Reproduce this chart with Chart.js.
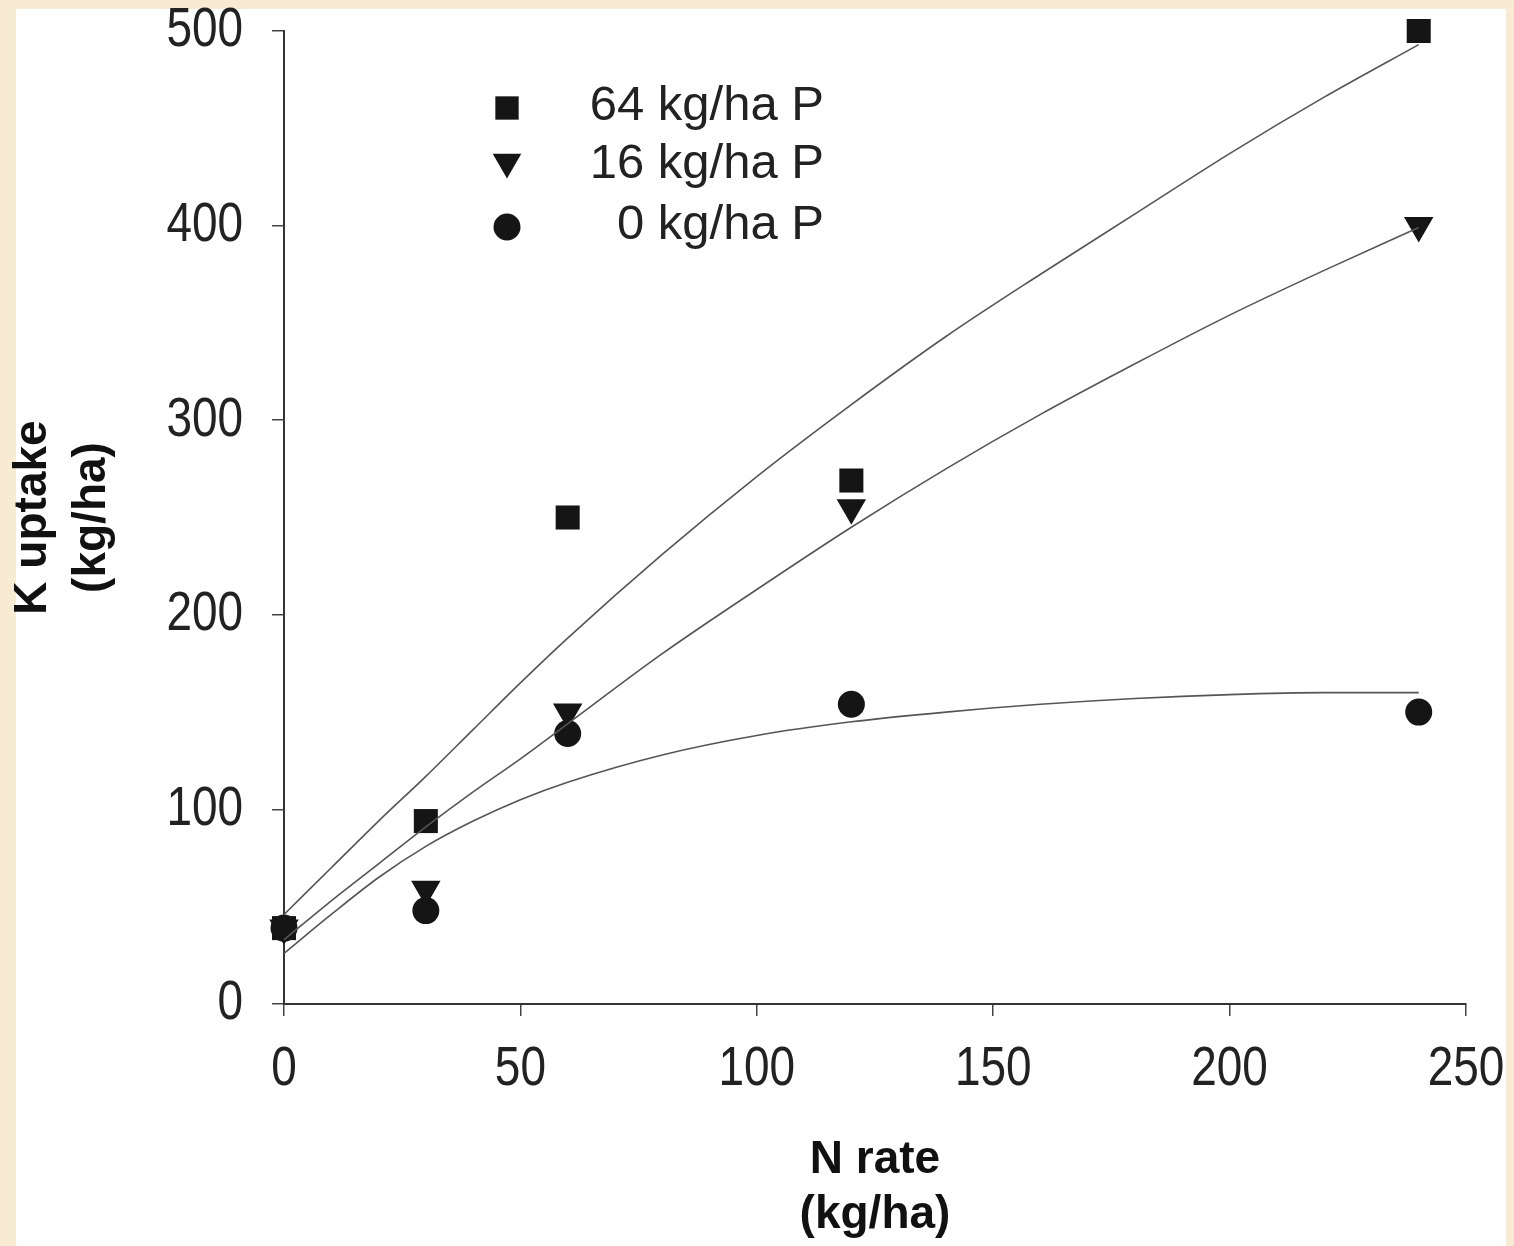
<!DOCTYPE html>
<html>
<head>
<meta charset="utf-8">
<script src="https://cdn.jsdelivr.net/npm/chart.js@4.4.1/dist/chart.umd.min.js"></script>
<style>
  html, body { margin: 0; padding: 0; background: #F8EBD3; }
  #wrap { position: absolute; left: 0; top: 0; width: 1514px; height: 1246px; }
</style>
</head>
<body>
<div id="wrap"><canvas id="grafico" width="1514" height="1246"></canvas></div>
<script>
// Datos medidos (tasa de N vs absorcion de K)
const nRates = [0, 30, 60, 120, 240];
const uptake64P = [39, 94, 250, 269, 500];
const uptake16P = [39, 59, 150, 255, 400];
const uptake0P = [39, 48, 139, 154, 150];

// Curvas ajustadas
const fitN = [0, 10, 20, 30, 40, 50, 60, 80, 100, 120, 140, 160, 180, 200, 220, 240];
const fit64P = [46, 70, 94, 117, 141, 165, 188, 231, 271, 308, 343, 375, 406, 437, 466, 493];
const fit16P = [33, 53, 72, 91, 109, 126, 144, 180, 213, 245, 275, 303, 329, 354, 377, 399];
const fit0P = [26, 46, 65, 81, 94, 105, 114, 128, 138, 145, 150, 154, 157, 159, 160, 160];

const legendLabels = ['64 kg/ha P', '16 kg/ha P', '0 kg/ha P'];
const xTicks = [0, 50, 100, 150, 200, 250];
const yTicks = [0, 100, 200, 300, 400, 500];

const titleFont = { family: "'Liberation Sans', Arial, sans-serif", size: 46, weight: 'bold' };
const fuenteTicks = "56px 'Liberation Sans', Arial, sans-serif";

function puntos(xs, ys) {
    return xs.map((x, i) => ({ x: x, y: ys[i] }));
}

function curva(ys) {
    return {
        data: puntos(fitN, ys),
        showLine: true,
        borderColor: '#555',
        borderWidth: 1.6,
        pointRadius: 0,
        cubicInterpolationMode: 'monotone',
        clip: false
    };
}

const marcas = [
    { data: puntos(nRates, uptake64P), pointStyle: 'rect', pointRadius: 17, pointRotation: 0 },
    { data: puntos(nRates, uptake16P), pointStyle: 'triangle', pointRadius: 17, pointRotation: 180 },
    { data: puntos(nRates, uptake0P), pointStyle: 'circle', pointRadius: 13.5, pointRotation: 0 }
].map(d => Object.assign(d, {
    backgroundColor: '#151515',
    borderColor: '#151515',
    borderWidth: 0,
    showLine: false,
    clip: false
}));

// fondo beige con el recuadro blanco
const fondo = {
    id: 'fondo',
    beforeDraw(chart) {
        const ctx = chart.ctx;
        ctx.save();
        ctx.fillStyle = '#F8EBD3';
        ctx.fillRect(0, 0, chart.width, chart.height);
        ctx.fillStyle = '#ffffff';
        ctx.fillRect(16, 9, 1490, 1237);
        ctx.restore();
    }
};

// etiquetas de los ejes, angostas como en el original
function textoAngosto(ctx, txt, x, y, align) {
    ctx.save();
    ctx.translate(x, y);
    ctx.scale(0.82, 1);
    ctx.textAlign = align;
    ctx.textBaseline = 'middle';
    ctx.fillText(txt, 0, 0);
    ctx.restore();
}

const etiquetas = {
    id: 'etiquetas',
    afterDraw(chart) {
        const ctx = chart.ctx;
        const sx = chart.scales.x;
        const sy = chart.scales.y;
        ctx.save();
        ctx.font = fuenteTicks;
        ctx.fillStyle = '#222';
        yTicks.forEach(v => textoAngosto(ctx, String(v), 243, sy.getPixelForValue(v), 'right'));
        xTicks.forEach(v => textoAngosto(ctx, String(v), sx.getPixelForValue(v), 1070, 'center'));
        ctx.restore();
    }
};

// leyenda dentro del area del grafico
const leyenda = {
    id: 'leyenda',
    afterDatasetsDraw(chart) {
        const ctx = chart.ctx;
        const filas = [106, 164, 225];
        ctx.save();
        marcas.forEach((m, i) => {
            ctx.fillStyle = '#151515';
            Chart.helpers.drawPoint(ctx, {
                pointStyle: m.pointStyle,
                radius: m.pointStyle === 'circle' ? 13.5 : 16.5,
                rotation: m.pointRotation,
                borderWidth: 0
            }, 507, filas[i] + (m.pointStyle === 'triangle' ? -2 : 2));
            ctx.font = "49px 'Liberation Sans', Arial, sans-serif";
            ctx.textAlign = 'right';
            ctx.textBaseline = 'middle';
            ctx.fillStyle = '#222';
            ctx.fillText(legendLabels[i], 824, filas[i]);
        });
        ctx.restore();
    }
};

const ctx = document.getElementById('grafico').getContext('2d');

new Chart(ctx, {
    type: 'scatter',
    data: {
        datasets: [curva(fit64P), curva(fit16P), curva(fit0P)].concat(marcas)
    },
    options: {
        responsive: false,
        animation: false,
        layout: { padding: { top: 31, right: 48, left: 0, bottom: 0 } },
        plugins: { legend: { display: false }, tooltip: { enabled: false } },
        scales: {
            x: {
                type: 'linear',
                min: 0,
                max: 250,
                afterBuildTicks: s => { s.ticks = xTicks.map(v => ({ value: v })); },
                afterFit: s => { s.height = 242; s.paddingLeft = 0; s.paddingRight = 0; },
                ticks: { display: false },
                grid: { drawOnChartArea: false, color: '#444', lineWidth: 1.5, tickLength: 12 },
                border: { color: '#333', width: 2 },
                title: {
                    display: true,
                    text: ['N rate', '(kg/ha)'],
                    font: titleFont,
                    color: '#111',
                    padding: { top: 0, bottom: 3 }
                }
            },
            y: {
                type: 'linear',
                min: 0,
                max: 500,
                afterBuildTicks: s => { s.ticks = yTicks.map(v => ({ value: v })); },
                afterFit: s => { s.width = 284; s.paddingTop = 0; s.paddingBottom = 0; },
                ticks: { display: false },
                grid: { drawOnChartArea: false, color: '#444', lineWidth: 1.5, tickLength: 12 },
                border: { color: '#333', width: 2 },
                title: {
                    display: true,
                    text: ['K uptake', '(kg/ha)'],
                    font: Object.assign({ lineHeight: 1.28 }, titleFont),
                    color: '#111',
                    padding: { top: 4, bottom: 0 }
                }
            }
        }
    },
    plugins: [fondo, etiquetas, leyenda]
});
</script>
</body>
</html>
